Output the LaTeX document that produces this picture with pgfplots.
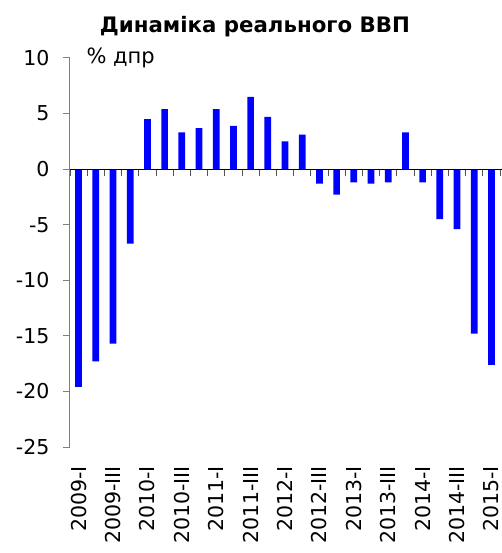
\documentclass[border=0pt]{standalone}
\usepackage{fontspec}
\setmainfont{DejaVu Sans}
\usepackage{pgfplots}
\pgfplotsset{compat=1.18}
\definecolor{axgray}{HTML}{808080}
\definecolor{tkgray}{HTML}{555555}
\definecolor{barblue}{HTML}{0000FF}
\begin{document}
\begin{tikzpicture}
\path[use as bounding box] (-70pt,-106pt) rectangle (432pt,447pt);
\begin{axis}[
  at={(0,0)}, anchor=south west,
  scale only axis, width=430pt, height=389pt,
  xmin=-0.5, xmax=24.5, ymin=-25, ymax=10,
  clip=false,
  axis y line*=left, axis x line*=bottom,
  x axis line style={draw=none},
  y axis line style={axgray, line width=1pt},
  xtick={0,2,...,24},
  xticklabels={2009-I,2009-III,2010-I,2010-III,2011-I,2011-III,2012-I,2012-III,2013-I,2013-III,2014-I,2014-III,2015-I},
  major x tick style={draw=none},
  xticklabel style={yshift=-10.5pt, rotate=90, anchor=east, font=\fontsize{20.5}{24}\selectfont, inner sep=1.5pt},
  ytick={-25,-20,...,10},
  yticklabels={-25,-20,-15,-10,-5,0,5,10},
  yticklabel style={font=\fontsize{20.5}{24}\selectfont, xshift=-10pt},
  major y tick style={axgray, line width=1pt},
  tick align=outside,
  major tick length=7pt,
  ybar, bar width=6.7pt, bar shift=0pt,
]
\addplot[fill=barblue, draw=none] coordinates {
(0,-19.6) (1,-17.3) (2,-15.7) (3,-6.7) (4,4.5) (5,5.4) (6,3.3) (7,3.7)
(8,5.4) (9,3.9) (10,6.5) (11,4.7) (12,2.5) (13,3.1) (14,-1.3) (15,-2.3)
(16,-1.2) (17,-1.3) (18,-1.2) (19,3.3) (20,-1.2) (21,-4.5) (22,-5.4) (23,-14.8) (24,-17.6)
};
\node[anchor=west, font=\fontsize{21}{25}\selectfont] at ([xshift=13pt]rel axis cs:0,1) {\% дпр};
\node[font=\fontsize{21.3}{25}\selectfont\bfseries] at ([yshift=31pt]axis cs:10.25,10) {Динаміка реального ВВП};
\end{axis}
\begin{axis}[
  at={(0,0)}, anchor=south west,
  scale only axis, width=430pt, height=389pt,
  xmin=-0.5, xmax=24.5, ymin=-25, ymax=10,
  clip=false,
  axis x line=middle, axis y line=none,
  x axis line style={black, line width=1pt, -, shorten >=-2pt},
  xtick={-0.5,0.5,...,24.5}, xticklabels={},
  ytick=\empty,
  major x tick style={tkgray, line width=1pt},
  tick align=outside,
  major tick length=6.5pt,
]
\end{axis}
\end{tikzpicture}
\end{document}
